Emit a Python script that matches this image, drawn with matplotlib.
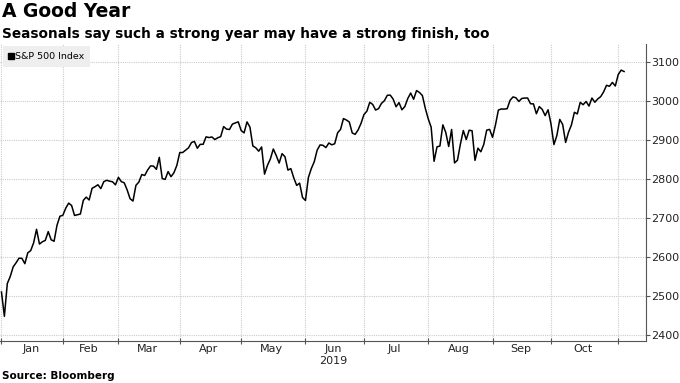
import matplotlib
matplotlib.use("Agg")
import matplotlib.pyplot as plt
from matplotlib.lines import Line2D

# S&P 500 daily closes, 2019-01-02 .. 2019-11-05 (one value per trading day)
jan = [2510.03, 2447.89, 2531.94, 2549.69, 2574.41, 2584.96, 2596.64, 2596.26, 2582.61, 2610.30,
       2616.10, 2635.96, 2670.71, 2632.90, 2638.70, 2642.33, 2664.76, 2643.85, 2640.00, 2681.05, 2704.10]
feb = [2706.53, 2724.87, 2737.70, 2731.61, 2706.05, 2707.88, 2709.80, 2744.73, 2753.03, 2745.73,
       2775.60, 2779.76, 2784.70, 2774.88, 2792.67, 2796.11, 2793.90, 2792.38, 2784.49]
mar = [2803.69, 2792.81, 2789.65, 2771.45, 2748.93, 2743.07, 2783.30, 2791.52, 2810.92, 2808.48,
       2822.48, 2832.94, 2832.57, 2824.23, 2854.88, 2800.71, 2798.36, 2818.46, 2805.37, 2815.44, 2834.40]
apr = [2867.19, 2867.24, 2873.40, 2879.39, 2892.74, 2895.77, 2878.20, 2888.21, 2888.32, 2907.41,
       2905.58, 2907.06, 2900.45, 2905.03, 2907.97, 2933.68, 2927.25, 2926.17, 2939.88, 2943.03, 2945.83]
may = [2923.73, 2917.52, 2945.64, 2932.47, 2884.05, 2879.42, 2870.72, 2881.40, 2811.87, 2834.41,
       2850.96, 2876.32, 2859.53, 2840.23, 2864.36, 2856.27, 2822.24, 2826.06, 2802.39, 2783.02,
       2788.86, 2752.06]
jun = [2744.45, 2803.27, 2826.15, 2843.49, 2873.34, 2886.73, 2885.72, 2879.84, 2891.64, 2886.98,
       2889.67, 2917.75, 2926.46, 2954.18, 2950.46, 2945.35, 2917.38, 2913.78, 2924.92, 2941.76]
jul = [2964.33, 2973.01, 2995.82, 2990.41, 2975.95, 2979.63, 2993.07, 2999.91, 3013.77, 3014.30,
       3004.04, 2984.42, 2995.11, 2976.61, 2985.03, 3005.47, 3019.56, 3003.67, 3025.86, 3020.97,
       3013.18, 2980.38]
aug = [2953.56, 2932.05, 2844.74, 2881.77, 2883.98, 2938.09, 2918.65, 2882.70, 2926.32, 2840.60,
       2847.60, 2888.68, 2923.65, 2900.51, 2924.43, 2922.95, 2847.11, 2878.38, 2869.16, 2887.94,
       2924.58, 2926.46]
sep = [2906.27, 2937.78, 2976.00, 2978.71, 2978.43, 2979.39, 3000.93, 3009.57, 3007.39, 2997.96,
       3005.70, 3006.73, 3006.79, 2992.07, 2991.78, 2966.60, 2984.87, 2977.62, 2961.79, 2976.74]
octo = [2940.25, 2887.61, 2910.63, 2952.01, 2938.79, 2893.06, 2919.40, 2938.13, 2970.27, 2966.15,
        2995.68, 2989.69, 2997.95, 2986.20, 3006.72, 2995.99, 3004.52, 3010.29, 3022.55, 3039.42,
        3036.89, 3046.77, 3037.56]
nov = [3066.91, 3078.27, 3074.62]

months = ["Jan", "Feb", "Mar", "Apr", "May", "Jun", "Jul", "Aug", "Sep", "Oct"]
month_data = [jan, feb, mar, apr, may, jun, jul, aug, sep, octo, nov]
yticks = [2400, 2500, 2600, 2700, 2800, 2900, 3000, 3100]

closes = [v for m in month_data for v in m]
x = list(range(len(closes)))

# month boundaries in trading-day index
bounds = [0]
for m in month_data:
    bounds.append(bounds[-1] + len(m))
bounds = bounds[:-1]          # start of each month (Jan..Nov)
mids = [(bounds[i] + bounds[i + 1]) / 2 - 0.5 for i in range(len(months))]

fig = plt.figure(figsize=(6.8, 3.83), dpi=100)
ax = fig.add_axes([0.0, 0.11, 0.95, 0.775])

ax.plot(x, closes, color="black", lw=1.1)

ax.set_xlim(-0.5, 220.5)
ax.set_ylim(2385, 3145)

# grid
ax.set_xticks(bounds)
ax.set_xticklabels([])
ax.set_xticks(mids, minor=True)
ax.set_xticklabels(months, minor=True)
ax.tick_params(axis="x", which="minor", length=0, pad=2, labelsize=8, colors="#222222")
ax.tick_params(axis="x", which="major", length=4, direction="inout", color="#555555")
ax.grid(True, which="major", color="#cccccc", ls=(0, (1, 1)), lw=0.8)

ax.yaxis.tick_right()
ax.set_yticks(yticks)
ax.set_yticklabels([str(t) for t in yticks])
ax.tick_params(axis="y", length=3, direction="out", pad=1, labelsize=8, colors="#222222")
ax.tick_params(axis="y", color="#555555")

for s in ["top", "left"]:
    ax.spines[s].set_visible(False)
ax.spines["right"].set_color("#555555")
ax.spines["bottom"].set_color("#555555")

ax.text(mids[5], -0.05, "2019", transform=ax.get_xaxis_transform(),
        ha="center", va="top", fontsize=8, color="#222222")

handle = Line2D([], [], color="black", marker="s", ls="none", markersize=4.5)
leg = ax.legend([handle], ["S&P 500 Index"], loc="upper left", fontsize=6.8,
                frameon=True, fancybox=False, handlelength=0.5, handletextpad=0.25,
                borderpad=0.6, borderaxespad=0, bbox_to_anchor=(0.004, 0.992))
leg.get_frame().set_facecolor("#eeeeee")
leg.get_frame().set_edgecolor("none")
leg.get_frame().set_alpha(1)

fig.text(0.003, 0.995, "A Good Year", fontsize=13.5, fontweight="bold", va="top", ha="left")
fig.text(0.003, 0.93, "Seasonals say such a strong year may have a strong finish, too",
         fontsize=9.8, fontweight="bold", va="top", ha="left")
fig.text(0.003, 0.005, "Source: Bloomberg", fontsize=7.5, fontweight="bold", va="bottom", ha="left")

fig.savefig("out.png", dpi=100)
